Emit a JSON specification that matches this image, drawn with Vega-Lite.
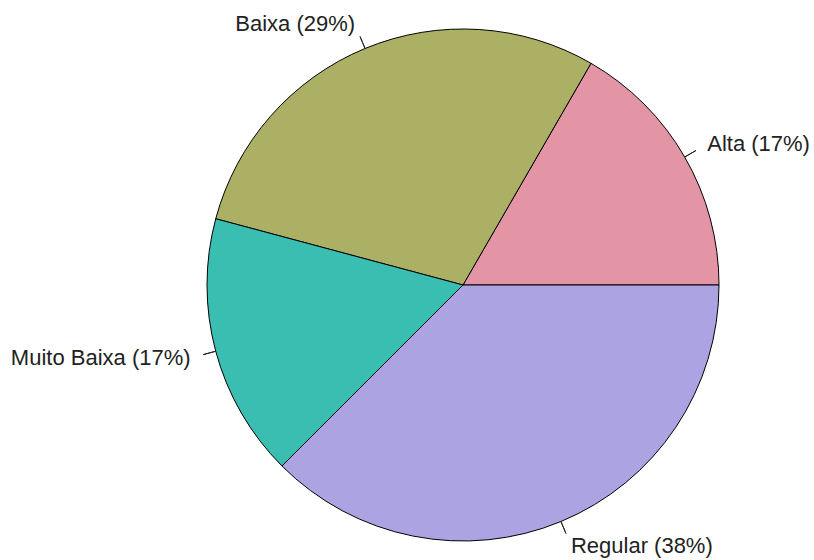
{
  "$schema": "https://vega.github.io/schema/vega-lite/v6.json",
  "width": 512,
  "height": 512,
  "autosize": "none",
  "padding": {"left": 207, "top": 29, "right": 95, "bottom": 19},
  "background": "white",
  "config": {"view": {"stroke": null}, "text": {"font": "Liberation Sans"}},
  "data": {
    "values": [
      {"o": 1, "cat": "Alta", "n": 4, "label": "Alta (17%)"},
      {"o": 2, "cat": "Baixa", "n": 7, "label": "Baixa (29%)"},
      {"o": 3, "cat": "Muito Baixa", "n": 4, "label": "Muito Baixa (17%)"},
      {"o": 4, "cat": "Regular", "n": 9, "label": "Regular (38%)"}
    ]
  },
  "transform": [
    {"window": [{"op": "sum", "field": "n", "as": "end"}], "sort": [{"field": "o"}], "frame": [null, 0]},
    {"joinaggregate": [{"op": "sum", "field": "n", "as": "total"}]},
    {"calculate": "datum.end - datum.n", "as": "start"},
    {"calculate": "datum.end - datum.n / 2", "as": "mid"},
    {"calculate": "cos(2 * PI * datum.mid / datum.total) >= 0 ? 'right' : 'left'", "as": "side"}
  ],
  "layer": [
    {
      "mark": {"type": "arc", "outerRadius": 256, "stroke": "black", "strokeWidth": 1},
      "encoding": {
        "theta": {"field": "end", "type": "quantitative", "stack": null, "scale": {"range": [1.5707963, -4.712389], "nice": false, "zero": true}},
        "theta2": {"field": "start"},
        "fill": {"field": "cat", "type": "nominal", "legend": null,
          "scale": {"domain": ["Alta", "Baixa", "Muito Baixa", "Regular"], "range": ["#E495A5", "#ABB065", "#39BEB1", "#ACA4E2"]}}
      }
    },
    {
      "mark": {"type": "arc", "innerRadius": 256, "outerRadius": 269, "stroke": "#222", "strokeWidth": 1, "fill": null},
      "encoding": {
        "theta": {"field": "mid", "type": "quantitative", "stack": null},
        "theta2": {"field": "mid"}
      }
    },
    {
      "transform": [{"filter": "datum.side == 'right'"}],
      "mark": {"type": "text", "radius": 282, "align": "left", "baseline": "middle", "fontSize": 22, "color": "#222"},
      "encoding": {
        "theta": {"field": "mid", "type": "quantitative", "stack": null},
        "text": {"field": "label"}
      }
    },
    {
      "transform": [{"filter": "datum.side == 'left'"}],
      "mark": {"type": "text", "radius": 282, "align": "right", "baseline": "middle", "fontSize": 22, "color": "#222"},
      "encoding": {
        "theta": {"field": "mid", "type": "quantitative", "stack": null},
        "text": {"field": "label"}
      }
    }
  ]
}
